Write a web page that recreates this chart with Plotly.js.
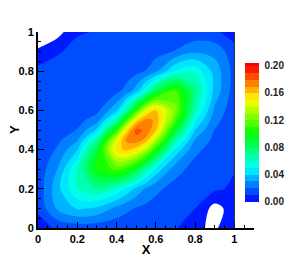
<!DOCTYPE html>
<html>
<head>
<meta charset="utf-8">
<script src="https://cdn.plot.ly/plotly-3.0.1.min.js"></script>
<style>html,body{margin:0;padding:0;background:#fff}#chart{width:289px;height:257px}</style>
</head>
<body>
<div id="chart"></div>
<script>
// grid coordinates (finer around the peak)
const xVals = [0, 0.1, 0.2, 0.3, 0.4, 0.45, 0.5, 0.55, 0.6, 0.7, 0.8, 0.9, 1.0];
const yVals = [0, 0.1, 0.2, 0.3, 0.4, 0.45, 0.5, 0.55, 0.6, 0.7, 0.8, 0.9, 1.0];
// field values (rows = y, columns = x)
const zRowY000 = [0.005, 0.012, 0.014, 0.014, 0.013, 0.0125, 0.012, 0.0115, 0.011, 0.011, 0.001, -0.001, 0.005];
const zRowY010 = [0.012, 0.0318, 0.0413, 0.038, 0.0272, 0.0225, 0.0191, 0.0171, 0.0159, 0.0151, 0.010, -0.004, 0.005];
const zRowY020 = [0.013, 0.0368, 0.0596, 0.0693, 0.0573, 0.0476, 0.0371, 0.0285, 0.0222, 0.0164, 0.0152, 0.012, 0.008];
const zRowY030 = [0.013, 0.0303, 0.060, 0.0995, 0.1139, 0.1064, 0.089, 0.067, 0.0471, 0.0236, 0.0164, 0.0151, 0.0105];
const zRowY040 = [0.012, 0.0214, 0.0392, 0.0888, 0.155, 0.163, 0.155, 0.1345, 0.1032, 0.0475, 0.0224, 0.016, 0.011];
const zRowY045 = [0.011, 0.0178, 0.0283, 0.0666, 0.1446, 0.172, 0.177, 0.1664, 0.1352, 0.068, 0.0294, 0.0173, 0.0115];
const zRowY050 = [0.011, 0.0159, 0.0204, 0.042, 0.1054, 0.1539, 0.1835, 0.178, 0.1603, 0.0915, 0.0395, 0.0197, 0.012];
const zRowY055 = [0.0105, 0.0153, 0.0166, 0.025, 0.0665, 0.1103, 0.1547, 0.174, 0.168, 0.112, 0.0516, 0.0233, 0.0125];
const zRowY060 = [0.0105, 0.015, 0.0153, 0.0174, 0.0384, 0.0668, 0.1065, 0.1449, 0.160, 0.1244, 0.0635, 0.0279, 0.013];
const zRowY070 = [0.0105, 0.015, 0.015, 0.0151, 0.0174, 0.0228, 0.0353, 0.0568, 0.0839, 0.111, 0.0728, 0.0364, 0.015];
const zRowY080 = [0.013, 0.014, 0.015, 0.015, 0.0151, 0.0155, 0.0168, 0.0204, 0.0278, 0.0514, 0.0575, 0.036, 0.016];
const zRowY090 = [0.002, 0.009, 0.013, 0.015, 0.015, 0.015, 0.0151, 0.0153, 0.016, 0.0207, 0.0282, 0.0265, 0.014];
const zRowY100 = [-0.010, -0.004, 0.009, 0.0105, 0.011, 0.011, 0.011, 0.011, 0.011, 0.012, 0.013, 0.012, 0.005];
const zGrid = [zRowY000, zRowY010, zRowY020, zRowY030, zRowY040, zRowY045, zRowY050,
               zRowY055, zRowY060, zRowY070, zRowY080, zRowY090, zRowY100];

// contour levels
const levelStart = 0, levelEnd = 0.2, levelStep = 0.01;
// band colours, lowest band first
const bandColors = [
  'rgb(0,26,255)', 'rgb(0,77,255)', 'rgb(0,128,255)', 'rgb(0,179,255)', 'rgb(0,230,255)',
  'rgb(0,255,230)', 'rgb(0,255,179)', 'rgb(0,255,128)', 'rgb(0,255,77)', 'rgb(0,255,26)',
  'rgb(26,255,0)', 'rgb(77,255,0)', 'rgb(128,255,0)', 'rgb(179,255,0)', 'rgb(230,255,0)',
  'rgb(255,230,0)', 'rgb(255,179,0)', 'rgb(255,128,0)', 'rgb(255,77,0)', 'rgb(255,26,0)'
];
const belowColor = 'rgb(255,255,255)';
const aboveColor = 'rgb(255,0,0)';
const colorTicks = [0, 0.04, 0.08, 0.12, 0.16, 0.20];

// stepped colorscale matching plotly's contour colour map
const nBands = bandColors.length + 1;
const cs = [[0, belowColor], [0.5 / nBands, belowColor]];
bandColors.forEach((c, k) => {
  cs.push([(k + 0.5) / nBands, c]); cs.push([(k + 1.5) / nBands, c]);
});
cs.push([(bandColors.length + 0.5) / nBands, aboveColor]);
cs.push([1, aboveColor]);

const fam = 'Liberation Sans, Arial, sans-serif';
const font = {family: fam, color: '#000', size: 11, weight: 'bold'};

const trace = {
  type: 'contour',
  x: xVals, y: yVals, z: zGrid,
  autocontour: false,
  contours: {start: levelStart, end: levelEnd, size: levelStep, coloring: 'fill', showlines: false},
  line: {width: 0, smoothing: 1},
  colorscale: cs,
  colorbar: {
    x: 0.958, xanchor: 'left', y: 0.482, yanchor: 'middle',
    len: 0.723, lenmode: 'fraction', thickness: 14, thicknessmode: 'pixels',
    ypad: 0, xpad: 0, outlinewidth: 0,
    tickvals: colorTicks, tickformat: '.2f', ticks: 'outside', ticklen: 4, tickcolor: 'rgba(0,0,0,0)',
    tickfont: {family: fam, size: 10, color: '#222', weight: 'bold'}
  },
  hoverinfo: 'skip'
};

const layout = {
  width: 289, height: 257,
  margin: {l: 38, r: 35, t: 32, b: 29, autoexpand: false},
  paper_bgcolor: '#fff', plot_bgcolor: '#fff',
  showlegend: false,
  xaxis: {
    range: [0, 1.1], tick0: 0, dtick: 0.2, ticks: 'inside', ticklen: 6, tickwidth: 1, tickcolor: '#000',
    minor: {dtick: 0.05, ticks: 'inside', ticklen: 3, tickcolor: '#000', tickwidth: 1},
    showline: true, linecolor: '#000', linewidth: 2, showgrid: false, zeroline: false,
    tickfont: font, title: {text: 'X', font: {family: fam, size: 13, weight: 'bold', color: '#000'}, standoff: 0}
  },
  yaxis: {
    range: [0, 1], tick0: 0, dtick: 0.2, ticks: 'inside', ticklen: 6, tickwidth: 1, tickcolor: '#000',
    minor: {dtick: 0.05, ticks: 'inside', ticklen: 3, tickcolor: '#000', tickwidth: 1},
    showline: true, linecolor: '#000', linewidth: 2, showgrid: false, zeroline: false,
    tickfont: font
  },
  annotations: [{
    text: 'Y', xref: 'paper', yref: 'paper', x: -0.111, y: 0.5, xanchor: 'center', yanchor: 'middle',
    textangle: -90, showarrow: false, font: {family: fam, size: 13, weight: 'bold', color: '#000'}
  }],
  shapes: [{type: 'line', xref: 'x', yref: 'y', x0: 1, x1: 1, y0: 0, y1: 1, line: {color: '#222', width: 1}}]
};

Plotly.newPlot('chart', [trace], layout, {staticPlot: true, displayModeBar: false});
</script>
</body>
</html>
